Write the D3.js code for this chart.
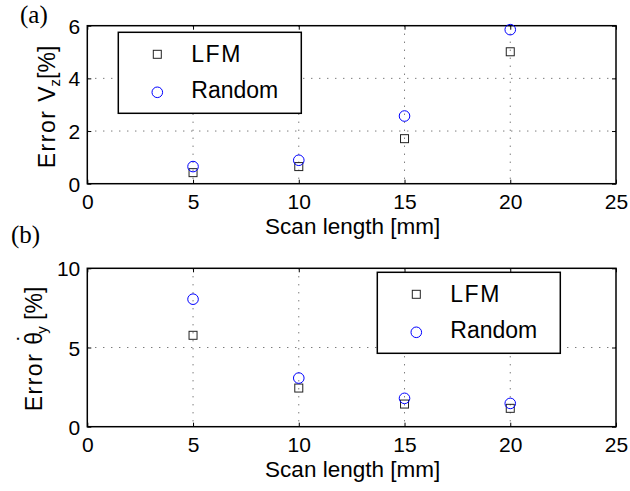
<!DOCTYPE html>
<html>
<head>
<meta charset="utf-8">
<script src="https://cdn.jsdelivr.net/npm/d3@7"></script>
<style>
  html, body { margin: 0; padding: 0; background: #fff; }
  svg { display: block; }
</style>
</head>
<body>
<svg id="fig" width="630" height="491"></svg>
<script>
// Scan lengths (mm) shared by both panels
const scanLength = [5, 10, 15, 20];
// Panel (a): error of V_z [%]
const vzLFM = [0.42, 0.65, 1.71, 5.01];
const vzRandom = [0.65, 0.89, 2.57, 5.85];
// Panel (b): error of theta-dot_y [%]
const thLFM = [5.77, 2.44, 1.43, 1.16];
const thRandom = [8.05, 3.07, 1.79, 1.47];
// Axis ticks
const xTicks = [0, 5, 10, 15, 20, 25];
const yTicksA = [0, 2, 4, 6];
const yTicksB = [0, 5, 10];
const seriesNames = ["LFM", "Random"];

const SANS = "'Liberation Sans', Arial, Helvetica, sans-serif";
const SERIF = "'Liberation Serif', 'Times New Roman', serif";

const svg = d3.select("#fig");
const left = 87.3, right = 616;

function panel(cfg) {
  const x = d3.scaleLinear().domain([0, 25]).range([left, right]);
  const y = d3.scaleLinear().domain(cfg.yDomain).range([cfg.bottom, cfg.top]);
  const g = svg.append("g");

  // dotted grid at inner ticks
  g.selectAll(".gx").data(xTicks.filter(d => d > 0 && d < 25)).enter()
    .append("line")
    .attr("x1", d => x(d)).attr("x2", d => x(d))
    .attr("y1", cfg.top).attr("y2", cfg.bottom)
    .attr("stroke", "#444").attr("stroke-width", 1)
    .attr("stroke-dasharray", "1,7");
  g.selectAll(".gy").data(cfg.yTicks.filter(d => d > cfg.yDomain[0] && d < cfg.yDomain[1])).enter()
    .append("line")
    .attr("y1", d => y(d)).attr("y2", d => y(d))
    .attr("x1", left).attr("x2", right)
    .attr("stroke", "#444").attr("stroke-width", 1)
    .attr("stroke-dasharray", "1,7");

  // axes with inward ticks on all four sides
  const tl = 4;
  const fmt = d3.format("d");
  const bottomAx = g.append("g").attr("transform", `translate(0,${cfg.bottom})`)
    .call(d3.axisBottom(x).tickValues(xTicks).tickSize(-tl).tickFormat(fmt));
  const topAx = g.append("g").attr("transform", `translate(0,${cfg.top})`)
    .call(d3.axisTop(x).tickValues(xTicks).tickSize(-tl).tickFormat(""));
  const leftAx = g.append("g").attr("transform", `translate(${left},0)`)
    .call(d3.axisLeft(y).tickValues(cfg.yTicks).tickSize(-tl).tickPadding(7).tickFormat(fmt));
  const rightAx = g.append("g").attr("transform", `translate(${right},0)`)
    .call(d3.axisRight(y).tickValues(cfg.yTicks).tickSize(-tl).tickFormat(""));
  [bottomAx, topAx, leftAx, rightAx].forEach(a => {
    a.attr("font-family", SANS).attr("font-size", 21);
    a.select(".domain").remove();
    a.selectAll(".tick line").attr("stroke", "#000").attr("stroke-width", 1);
    a.selectAll("text").attr("fill", "#000");
  });
  bottomAx.selectAll("text").attr("dy", null).attr("y", 25.5);
  leftAx.selectAll("text").attr("dy", "0.36em");

  // box
  g.append("rect").attr("x", left).attr("y", cfg.top)
    .attr("width", right - left).attr("height", cfg.bottom - cfg.top)
    .attr("fill", "none").attr("stroke", "#000").attr("stroke-width", 1.5);

  // markers
  const sq = 8;
  g.selectAll(".sq").data(scanLength.map((d, i) => [d, cfg.lfm[i]])).enter()
    .append("rect")
    .attr("x", d => x(d[0]) - sq / 2).attr("y", d => y(d[1]) - sq / 2)
    .attr("width", sq).attr("height", sq)
    .attr("fill", "none").attr("stroke", "#222").attr("stroke-width", 1);
  g.selectAll(".ci").data(scanLength.map((d, i) => [d, cfg.rnd[i]])).enter()
    .append("circle")
    .attr("cx", d => x(d[0])).attr("cy", d => y(d[1])).attr("r", 5.3)
    .attr("fill", "none").attr("stroke", "#0000ff").attr("stroke-width", 1);

  // x label
  g.append("text").attr("x", (left + right) / 2 + 1).attr("y", cfg.bottom + 50)
    .attr("text-anchor", "middle").attr("font-family", SANS).attr("font-size", 22.5)
    .text("Scan length [mm]");

  // y label
  const yl = g.append("text")
    .attr("transform", `translate(${cfg.ylabelX},${cfg.ylabelY}) rotate(-90)`)
    .attr("text-anchor", "middle").attr("font-family", SANS).attr("font-size", 23);
  cfg.ylabel(yl);

  // panel tag
  svg.append("text").attr("x", cfg.tagX).attr("y", cfg.tagY)
    .attr("font-family", SERIF).attr("font-size", 25).text(cfg.tag);

  // legend
  const lg = g.append("g").attr("transform", `translate(${cfg.legX},${cfg.legY})`);
  lg.append("rect").attr("width", 183).attr("height", 81)
    .attr("fill", "#fff").attr("stroke", "#000").attr("stroke-width", 1.5);
  lg.append("rect").attr("x", 39 - sq / 2).attr("y", 22 - sq / 2).attr("width", sq).attr("height", sq)
    .attr("fill", "none").attr("stroke", "#222").attr("stroke-width", 1);
  lg.append("circle").attr("cx", 39).attr("cy", 60).attr("r", 5.3)
    .attr("fill", "none").attr("stroke", "#0000ff").attr("stroke-width", 1);
  lg.append("text").attr("x", 73).attr("y", 30).attr("font-family", SANS).attr("font-size", 23)
    .attr("letter-spacing", 1.5).text(seriesNames[0]);
  lg.append("text").attr("x", 73).attr("y", 66).attr("font-family", SANS).attr("font-size", 23)
    .text(seriesNames[1]);
}

panel({
  top: 25.7, bottom: 183.7, yDomain: [0, 6], yTicks: yTicksA,
  lfm: vzLFM, rnd: vzRandom,
  tag: "(a)", tagX: 20, tagY: 22.5,
  legX: 118.3, legY: 32.3,
  ylabelX: 55, ylabelY: 107,
  ylabel: t => {
    t.append("tspan").attr("letter-spacing", 1.5).text("Error ");
    t.append("tspan").text("V");
    t.append("tspan").attr("font-size", 15).attr("dy", 5).text("z");
    t.append("tspan").attr("dy", -5).text("[%]");
  }
});

panel({
  top: 268.3, bottom: 426.7, yDomain: [0, 10], yTicks: yTicksB,
  lfm: thLFM, rnd: thRandom,
  tag: "(b)", tagX: 11, tagY: 243,
  legX: 377.3, legY: 272.3,
  ylabelX: 42, ylabelY: 349,
  ylabel: t => {
    t.append("tspan").attr("letter-spacing", 1.5).text("Error ");
    t.append("tspan").text("\u03B8");
    // overdot placed above the theta
    t.append("tspan").attr("dx", -9.5).attr("dy", -8).text("\u02D9");
    t.append("tspan").attr("font-size", 15).attr("dx", 0).attr("dy", 13).text("y");
    t.append("tspan").attr("dy", -5).text(" [%]");
  }
});
</script>
</body>
</html>
